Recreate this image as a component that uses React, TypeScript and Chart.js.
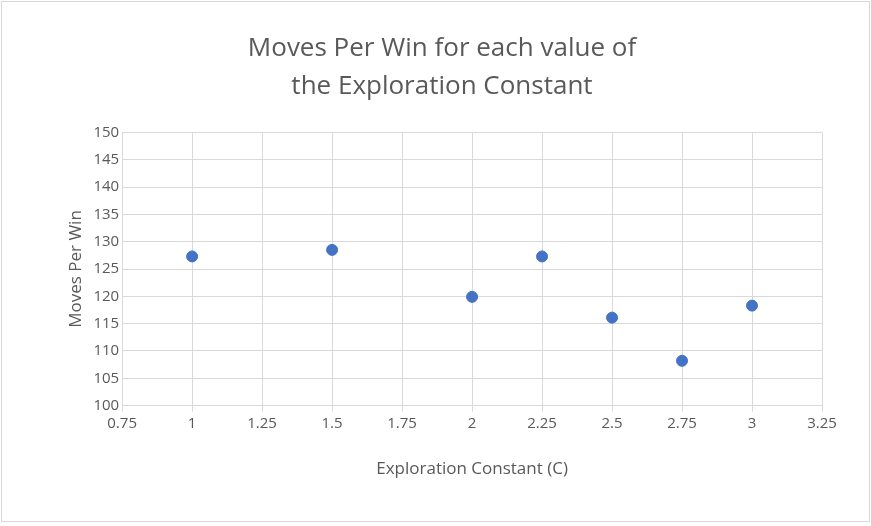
import { useEffect, useRef } from "react"
import { Chart, registerables } from "chart.js"

Chart.register(...registerables)

const constants = [1, 1.5, 2, 2.25, 2.5, 2.75, 3]
const movesPerWin = [127.3, 128.5, 119.9, 127.3, 116.1, 108.2, 118.3]
const titleLines = ["Moves Per Win for each value of", "the Exploration Constant"]

export default function App() {
  const chartRef = useRef<HTMLCanvasElement>(null)
  const chartInstance = useRef<Chart | null>(null)

  useEffect(() => {
    document.body.style.margin = "0"
    if (!chartRef.current) return
    if (chartInstance.current) chartInstance.current.destroy()
    const ctx = chartRef.current.getContext("2d")
    if (!ctx) return

    chartInstance.current = new Chart(ctx, {
      type: "scatter",
      data: {
        datasets: [
          {
            label: "Moves Per Win",
            data: constants.map((c, i) => ({ x: c, y: movesPerWin[i] })),
            backgroundColor: "#4472C4",
            borderColor: "#4472C4",
            pointRadius: 5.5,
          },
        ],
      },
      options: {
        animation: false,
        responsive: false,
        layout: { padding: { left: 62, right: 49, top: 14, bottom: 43 } },
        plugins: {
          legend: { display: false },
          tooltip: { enabled: false },
          title: {
            display: true,
            text: titleLines,
            color: "#595959",
            font: { family: "Open Sans", size: 26, weight: "normal", lineHeight: 1.45 },
            padding: { top: 16, bottom: 27 },
          },
        },
        scales: {
          x: {
            type: "linear",
            min: 0.75,
            max: 3.25,
            ticks: {
              stepSize: 0.25,
              color: "#595959",
              font: { family: "Open Sans", size: 15 },
              callback: (v) => String(Number(v)),
            },
            grid: { color: "#D9D9D9", tickLength: 6 },
            border: { color: "#D9D9D9" },
            title: {
              display: true,
              text: "Exploration Constant (C)",
              color: "#595959",
              font: { family: "Open Sans", size: 17 },
              padding: { top: 23 },
            },
          },
          y: {
            min: 100,
            max: 150,
            ticks: { stepSize: 5, color: "#595959", font: { family: "Open Sans", size: 15 } },
            grid: { color: "#D9D9D9", drawTicks: false },
            border: { color: "#D9D9D9" },
            title: {
              display: true,
              text: "Moves Per Win",
              color: "#595959",
              font: { family: "Open Sans", size: 17 },
            },
          },
        },
      },
    })

    return () => {
      if (chartInstance.current) chartInstance.current.destroy()
    }
  }, [])

  return (
    <div style={{ width: 871, height: 526, position: "relative" }}>
      <div style={{ position: "absolute", left: 1, top: 1, width: 867, height: 519, border: "1px solid #D9D9D9" }} />
      <canvas ref={chartRef} width={871} height={526} style={{ position: "absolute", left: 0, top: 0 }} />
    </div>
  )
}
